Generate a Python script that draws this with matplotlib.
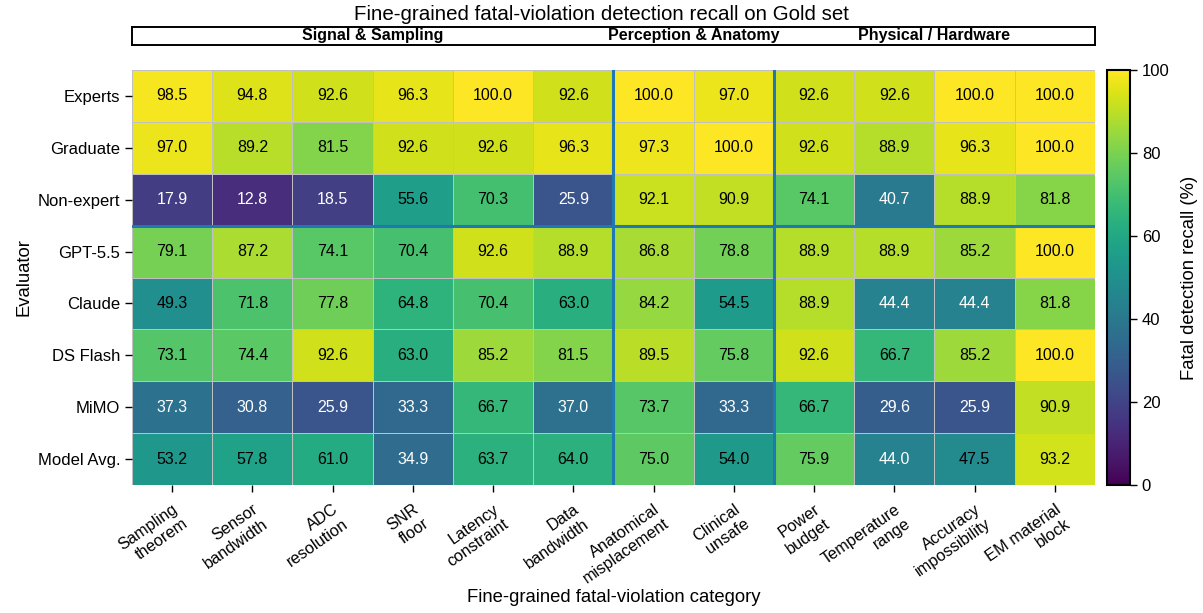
import matplotlib.pyplot as plt
import numpy as np

plt.rcParams['font.family'] = ['Liberation Sans', 'DejaVu Sans']

## Evaluators (rows) and fine-grained categories (columns)
evaluators = ['Experts', 'Graduate', 'Non-expert', 'GPT-5.5', 'Claude', 'DS Flash', 'MiMO', 'Model Avg.']
categories = ['Sampling\ntheorem', 'Sensor\nbandwidth', 'ADC\nresolution', 'SNR\nfloor',
              'Latency\nconstraint', 'Data\nbandwidth', 'Anatomical\nmisplacement', 'Clinical\nunsafe',
              'Power\nbudget', 'Temperature\nrange', 'Accuracy\nimpossibility', 'EM material\nblock']

## Recall (%) per evaluator
experts    = [98.5, 94.8, 92.6, 96.3, 100.0, 92.6, 100.0, 97.0, 92.6, 92.6, 100.0, 100.0]
graduate   = [97.0, 89.2, 81.5, 92.6, 92.6, 96.3, 97.3, 100.0, 92.6, 88.9, 96.3, 100.0]
non_expert = [17.9, 12.8, 18.5, 55.6, 70.3, 25.9, 92.1, 90.9, 74.1, 40.7, 88.9, 81.8]
gpt55      = [79.1, 87.2, 74.1, 70.4, 92.6, 88.9, 86.8, 78.8, 88.9, 88.9, 85.2, 100.0]
claude     = [49.3, 71.8, 77.8, 64.8, 70.4, 63.0, 84.2, 54.5, 88.9, 44.4, 44.4, 81.8]
ds_flash   = [73.1, 74.4, 92.6, 63.0, 85.2, 81.5, 89.5, 75.8, 92.6, 66.7, 85.2, 100.0]
mimo       = [37.3, 30.8, 25.9, 33.3, 66.7, 37.0, 73.7, 33.3, 66.7, 29.6, 25.9, 90.9]
model_avg  = [53.2, 57.8, 61.0, 34.9, 63.7, 64.0, 75.0, 54.0, 75.9, 44.0, 47.5, 93.2]

## Category groups: (name, first column, number of columns)
groups = [('Signal & Sampling', 0, 6), ('Perception & Anatomy', 6, 2), ('Physical / Hardware', 8, 4)]

data = np.array([experts, graduate, non_expert, gpt55, claude, ds_flash, mimo, model_avg])
n_rows, n_cols = data.shape

fig = plt.figure(figsize=(12.03, 6.13), dpi=100)
ax = fig.add_axes([0.1097, 0.2088, 0.8005, 0.677])
cax = fig.add_axes([0.9202, 0.2088, 0.0191, 0.677])
hax = fig.add_axes([0.1097, 0.9266, 0.8005, 0.0294])

mesh = ax.pcolormesh(data, cmap='viridis', vmin=0, vmax=100,
                     edgecolors='#c0c0c0', linewidth=0.6)
ax.set_xlim(0, n_cols)
ax.set_ylim(n_rows, 0)
for s in ax.spines.values():
    s.set_visible(False)

for i in range(n_rows):
    for j in range(n_cols):
        v = data[i, j]
        ax.text(j + 0.5, i + 0.5, '%.1f' % v, ha='center', va='center',
                fontsize=11.5, color='black' if v >= 45 else 'white')

## Group separators
for _, start, width in groups[1:]:
    ax.axvline(start, color='#1f77b4', lw=2.2)
ax.axhline(3, color='#1f77b4', lw=2.2)

ax.set_xticks(np.arange(n_cols) + 0.5)
ax.set_xticklabels(categories, rotation=35, ha='right', rotation_mode='anchor', fontsize=11.8)
ax.set_yticks(np.arange(n_rows) + 0.5)
ax.set_yticklabels(evaluators, fontsize=12)
ax.tick_params(axis='x', length=5, width=1, pad=7)
ax.tick_params(axis='y', length=5, width=1)
ax.set_xlabel('Fine-grained fatal-violation category', fontsize=13.3, labelpad=2)
ax.set_ylabel('Evaluator', fontsize=13.3)

cb = fig.colorbar(mesh, cax=cax)
cb.set_ticks([0, 20, 40, 60, 80, 100])
cb.ax.tick_params(labelsize=12, length=5, width=1)
cb.outline.set_linewidth(1.5)
cb.set_label('Fatal detection recall (%)', fontsize=13.3, labelpad=8)

## Group header strip
hax.set_xlim(0, n_cols)
hax.set_ylim(0, 1)
hax.set_xticks([])
hax.set_yticks([])
for s in hax.spines.values():
    s.set_linewidth(1.4)
for name, start, width in groups:
    hax.text(start + width / 2, 0.5, name, ha='center', va='center',
             fontsize=11.5, fontweight='bold')

fig.suptitle('Fine-grained fatal-violation detection recall on Gold set', fontsize=14.8, y=0.992)

plt.savefig('out.png', dpi=100)
